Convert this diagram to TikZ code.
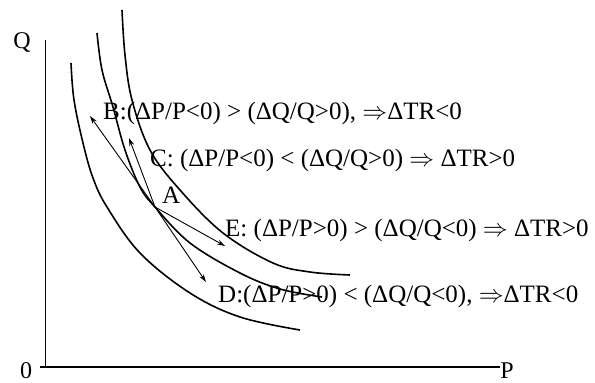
\documentclass[tikz,border=0pt]{standalone}
\usepackage{fontspec}
\setmainfont{Liberation Serif}
\usetikzlibrary{arrows.meta}
\begin{document}
\begin{tikzpicture}[x=1pt,y=-1pt,
  curve/.style={line width=1.6pt},
  vec/.style={line width=0.9pt,-{Stealth[length=8pt,width=5pt]}},
  lbl/.style={font=\fontsize{25}{28}\selectfont,inner sep=0pt,anchor=base west},
  axlbl/.style={font=\fontsize{24}{27}\selectfont,inner sep=0pt}]
\useasboundingbox (0,0) rectangle (595,383);
% axes
\coordinate (O) at (45,367);
\coordinate (Ytop) at (45,40);
\coordinate (Xend) at (500,367);
\coordinate (Xstart) at (40,367);
\draw[line width=0.8pt] (O) -- (Ytop);
\draw[line width=1.6pt] (Xstart) -- (Xend);
\node[axlbl] (q) at (22,42) {Q};
\node[axlbl] (zero) at (26,371) {0};
\node[axlbl] (p) at (507,371) {P};
% curves
\draw[curve] plot[smooth,tension=0.6] coordinates {(71,63) (74,100) (83,143) (93,178) (107,207) (140,253) (190,293) (240,317) (300,330)};
\draw[curve] plot[smooth,tension=0.6] coordinates {(97,33) (102,70) (113,107) (125,150) (140,187) (155,207) (190,243) (240,273) (280,289) (322,297)};
\draw[curve] plot[smooth,tension=0.6] coordinates {(122,10) (125,55) (132,100) (150,150) (180,190) (223,233) (273,263) (310,272) (350,275)};
% point A and arrows
\coordinate (A) at (155,207);
\coordinate (tB) at (90,116);
\coordinate (tC) at (129,138);
\coordinate (tE) at (225,246);
\coordinate (tD) at (206,282);
\draw[vec] (A) -- (tB);
\draw[vec] (A) -- (tC);
\draw[vec] (A) -- (tE);
\draw[vec] (A) -- (tD);
\node[lbl] (a) at (162,203) {A};
\node[lbl] (b) at (103,119) {B:(ΔP/P<0) > (ΔQ/Q>0), $\Rightarrow$ΔTR<0};
\node[lbl] (c) at (150,166) {C: (ΔP/P<0) < (ΔQ/Q>0) $\Rightarrow$ ΔTR>0};
\node[lbl] (e) at (225,236) {E: (ΔP/P>0) > (ΔQ/Q<0) $\Rightarrow$ ΔTR>0};
\node[lbl] (d) at (218,302) {D:(ΔP/P>0) < (ΔQ/Q<0), $\Rightarrow$ΔTR<0};
\end{tikzpicture}
\end{document}
